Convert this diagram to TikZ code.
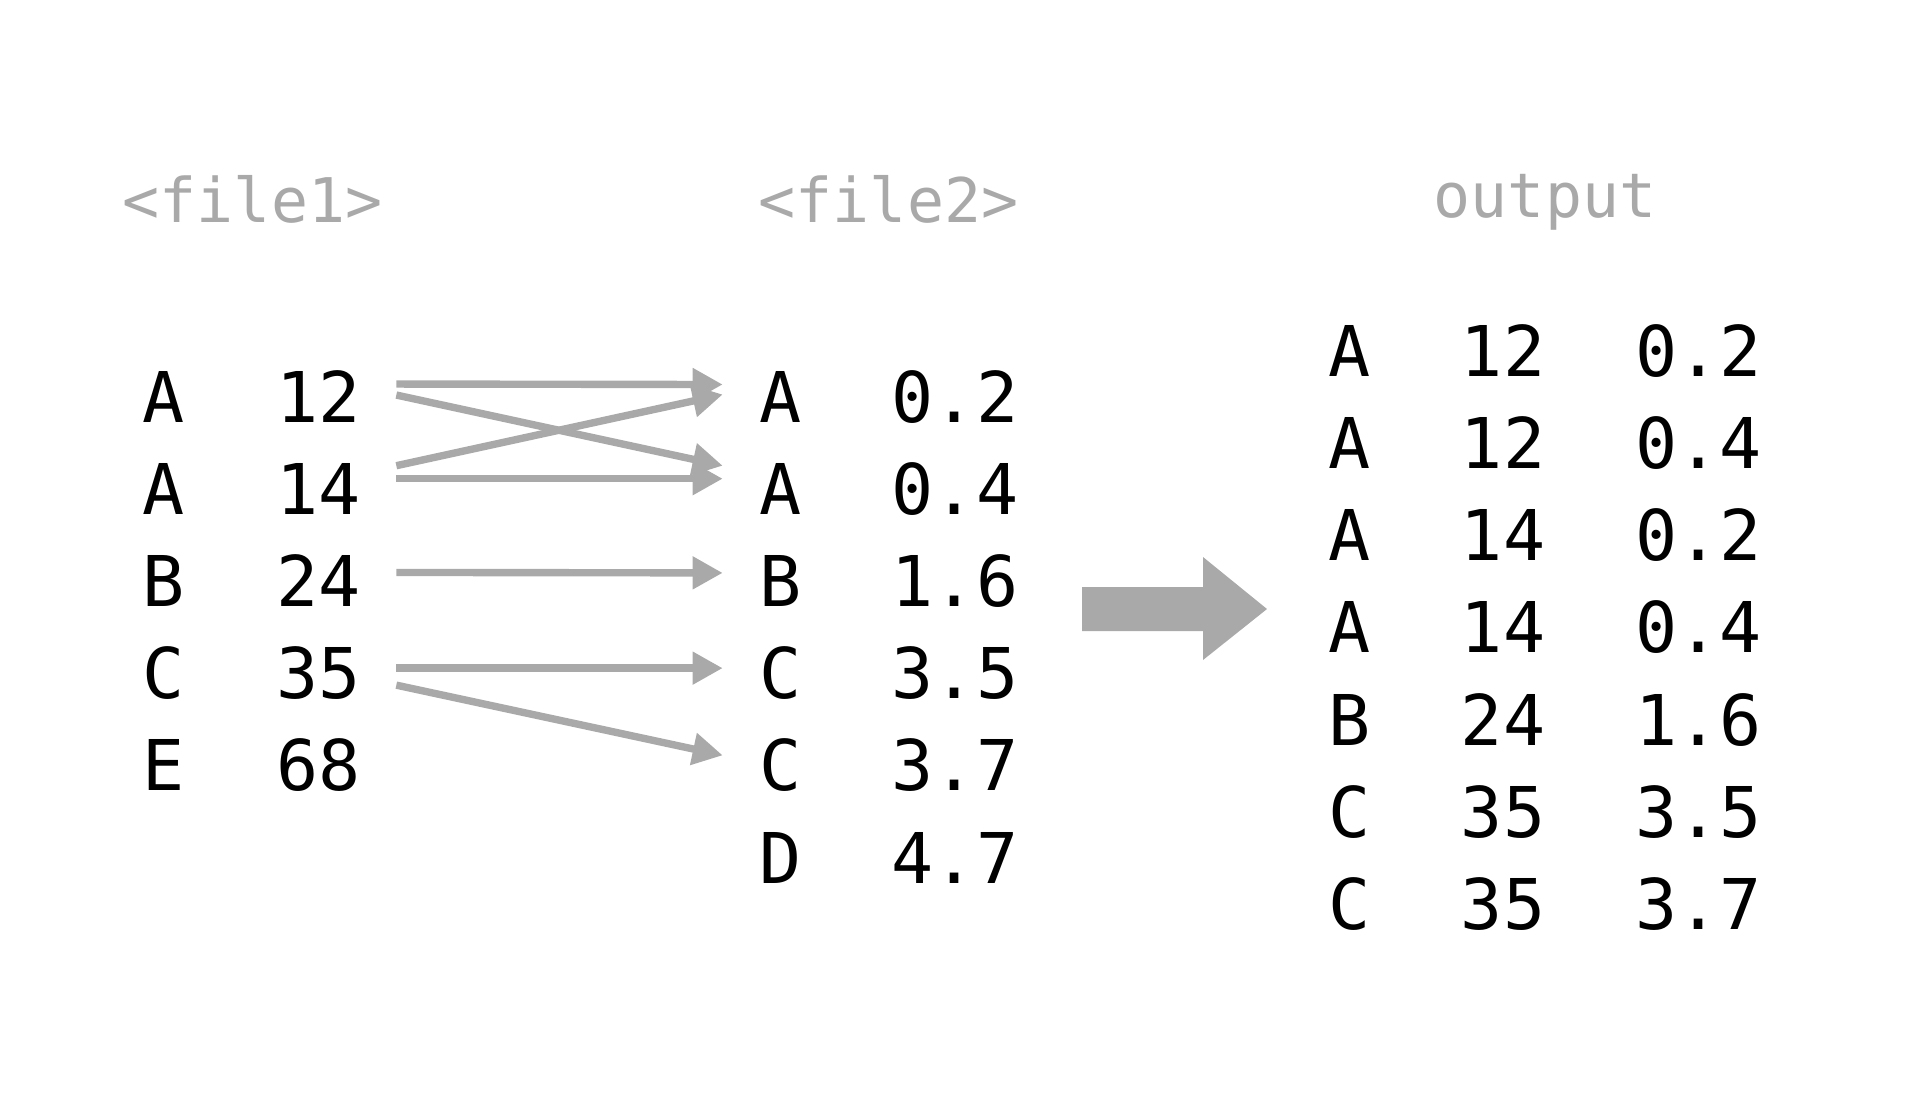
\documentclass[tikz,border=0pt]{standalone}
\usepackage{fontspec}
\setmonofont{DejaVu Sans Mono}
\usetikzlibrary{arrows.meta,calc}
\definecolor{linkgray}{HTML}{A9A9A9}
\begin{document}
\begin{tikzpicture}
  [x=0.01cm,y=-0.01cm,
   every node/.style={anchor=base,inner sep=0pt,font=\ttfamily\fontsize{19.9}{24}\selectfont},
   head/.style={text=linkgray,font=\ttfamily\fontsize{17.5}{21}\selectfont},
   link/.style={draw=linkgray,line width=2.1pt,-{Triangle[length=0.3cm,width=0.31cm]}}]
  \useasboundingbox (0,0) rectangle (1912,1114);

  \node[head] (h1) at (252.5,222) {<file1>};
  \node[head] (h2) at (888.5,222) {<file2>};
  \node[head] (h3) at (1545,217)  {output};

  \foreach \k/\l/\v in {1/A/12,2/A/14,3/B/24,4/C/35,5/E/68}
  {
    \node (a\k) at (164,{422+92.2*(\k-1)})   {\l};
    \node (n\k) at (318.5,{422+92.2*(\k-1)}) {\v};
  }

  \foreach \k/\l/\v in {1/A/0.2,2/A/0.4,3/B/1.6,4/C/3.5,5/C/3.7,6/D/4.7}
  {
    \node (b\k) at (780.5,{422+92.2*(\k-1)}) {\l};
    \node (m\k) at (955,{422+92.2*(\k-1)})   {\v};
  }

  \foreach \k/\l/\v/\w in {1/A/12/0.2,2/A/12/0.4,3/A/14/0.2,4/A/14/0.4,5/B/24/1.6,6/C/35/3.5,7/C/35/3.7}
  {
    \node (o\k) at (1349.5,{376+92.3*(\k-1)}) {\l};
    \node (p\k) at (1503,{376+92.3*(\k-1)})   {\v};
    \node (q\k) at (1698.5,{376+92.3*(\k-1)}) {\w};
  }

  \foreach \from/\fy/\to/\ty in {n1/-12/b1/-12,n1/-1/b2/-23,n2/-23/b1/-2,n2/-10/b2/-10,
                                 n3/-8/b3/-8,n4/-5/b4/-5,n4/12/b5/-10}
    \draw[link] ($(\from.east)+(35,\fy)$) -- ($(\to.west)+(-36,\ty)$);

  \fill[linkgray] (1082,587) -- (1203,587) -- (1203,557) -- (1267,609)
    -- (1203,660) -- (1203,631) -- (1082,631) -- cycle;

\end{tikzpicture}
\end{document}
